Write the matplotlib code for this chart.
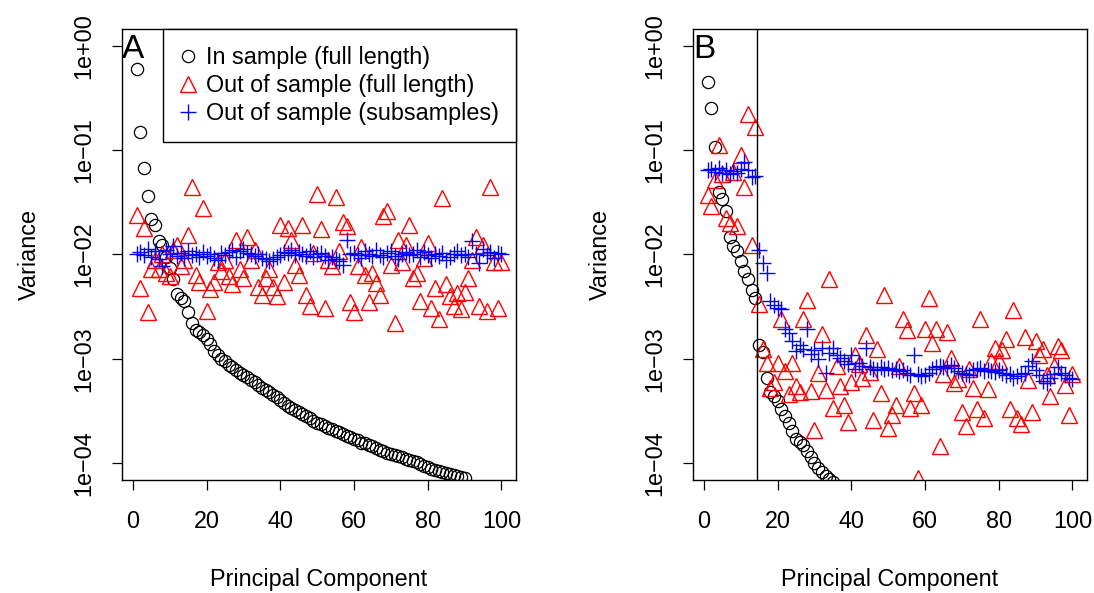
import matplotlib
matplotlib.use("Agg")
import matplotlib.pyplot as plt
from matplotlib.lines import Line2D
import numpy as np

plt.rcParams['font.family'] = ['Liberation Sans', 'DejaVu Sans']

# ---------------- data ----------------
# Panel A
a_in_sample = [0.60, 0.148, 0.068, 0.036, 0.022, 0.019, 0.0136, 0.0124, 0.0095, 0.0075,
               0.0058, 0.0042, 0.0038, 0.0036, 0.0028, 0.0022, 0.0019, 0.0018, 0.0017, 0.00155,
               0.0014, 0.0012, 0.00108, 0.00100, 0.00095, 0.00088, 0.00083, 0.00078, 0.00074, 7.08e-4,
               6.76e-4, 6.31e-4, 6.03e-4, 5.62e-4, 5.25e-4, 5.01e-4, 4.79e-4, 4.47e-4, 4.27e-4, 4.07e-4,
               3.80e-4, 3.55e-4, 3.39e-4, 3.24e-4, 3.09e-4, 2.95e-4, 2.82e-4, 2.69e-4, 2.57e-4, 2.45e-4,
               2.40e-4, 2.29e-4, 2.19e-4, 2.14e-4, 2.04e-4, 2.00e-4, 1.91e-4, 1.82e-4, 1.78e-4, 1.70e-4,
               1.66e-4, 1.58e-4, 1.55e-4, 1.51e-4, 1.45e-4, 1.41e-4, 1.35e-4, 1.32e-4, 1.26e-4, 1.23e-4,
               1.20e-4, 1.17e-4, 1.15e-4, 1.10e-4, 1.07e-4, 1.05e-4, 1.02e-4, 9.8e-5, 9.5e-5, 9.3e-5,
               8.9e-5, 8.7e-5, 8.5e-5, 8.3e-5, 8.1e-5, 7.9e-5, 7.8e-5, 7.6e-5, 7.4e-5, 7.2e-5]

a_out_full = [0.0240, 0.0048, 0.0181, 0.0028, 0.0072, 0.0089, 0.0072, 0.0100, 0.0067, 0.0062,
              0.0111, 0.0124, 0.0077, 0.0089, 0.0155, 0.0445, 0.0064, 0.0054, 0.0281, 0.0029,
              0.0047, 0.0054, 0.0084, 0.0069, 0.0089, 0.0062, 0.0052, 0.0139, 0.0072, 0.0060,
              0.0148, 0.0089, 0.0111, 0.0049, 0.0041, 0.0060, 0.0072, 0.0049, 0.0040, 0.0193,
              0.0054, 0.0181, 0.0139, 0.0080, 0.0063, 0.0193, 0.0041, 0.0032, 0.0104, 0.0382,
              0.0177, 0.0031, 0.0089, 0.0077, 0.0357, 0.0107, 0.0206, 0.0189, 0.0035, 0.0028,
              0.0078, 0.0119, 0.0063, 0.0035, 0.0067, 0.0053, 0.0041, 0.0235, 0.0262, 0.0080,
              0.0022, 0.0139, 0.0084, 0.0124, 0.0193, 0.0059, 0.0067, 0.0036, 0.0093, 0.0130,
              0.0031, 0.0048, 0.0024, 0.0350, 0.0052, 0.0040, 0.0032, 0.0043, 0.0030, 0.0044,
              0.0060, 0.0089, 0.0148, 0.0032, 0.0124, 0.0029, 0.0445, 0.0084, 0.0031, 0.0084]

a_out_sub = [0.0100, 0.0105, 0.0098, 0.0112, 0.0095, 0.0108, 0.0090, 0.0078, 0.0110, 0.0102,
             0.0120, 0.0096, 0.0104, 0.0093, 0.0107, 0.0099, 0.0101, 0.0094, 0.0106, 0.0097,
             0.0100, 0.0092, 0.0088, 0.0103, 0.0098, 0.0106, 0.0110, 0.0095, 0.0108, 0.0112,
             0.0104, 0.0100, 0.0096, 0.0102, 0.0093, 0.0090, 0.0087, 0.0091, 0.0095, 0.0099,
             0.0106, 0.0103, 0.0110, 0.0098, 0.0105, 0.0101, 0.0096, 0.0108, 0.0094, 0.0100,
             0.0103, 0.0097, 0.0089, 0.0095, 0.0091, 0.0087, 0.0080, 0.0139, 0.0100, 0.0104,
             0.0098, 0.0093, 0.0107, 0.0101, 0.0096, 0.0110, 0.0099, 0.0094, 0.0103, 0.0108,
             0.0097, 0.0091, 0.0100, 0.0105, 0.0098, 0.0102, 0.0111, 0.0095, 0.0106, 0.0099,
             0.0093, 0.0101, 0.0097, 0.0104, 0.0089, 0.0095, 0.0100, 0.0107, 0.0098, 0.0102,
             0.0094, 0.0134, 0.0100, 0.0082, 0.0112, 0.0099, 0.0106, 0.0093, 0.0104, 0.0101]

# Panel B
b_in_sample = [0.451, 0.255, 0.108, 0.040, 0.034, 0.0259, 0.0146, 0.0120, 0.0107, 0.0086,
               0.0069, 0.0058, 0.0046, 0.0038, 0.00135, 0.00116, 0.000653, 0.000483, 0.000443, 0.000396,
               0.000330, 0.000285, 0.000243, 0.000205, 0.000171, 0.000160, 0.000150, 0.000132, 0.000114, 0.000100,
               9.0e-5, 8.2e-5, 7.6e-5, 7.1e-5, 6.6e-5]

b_out_full = [0.0373, 0.0289, 0.0519, 0.112, 0.059, 0.0224, 0.0200, 0.062, 0.0186, 0.090,
              0.0448, 0.220, 0.0124, 0.168, 0.00332, 0.00125, 0.00092, 0.00053, 0.00060, 0.00091,
              0.00239, 0.00077, 0.00046, 0.00091, 0.00055, 0.00048, 0.00239, 0.00366, 0.00049, 0.00021,
              0.00074, 0.00175, 0.00050, 0.00585, 0.00034, 0.00086, 0.00055, 0.00036, 0.00025, 0.00060,
              0.00110, 0.00089, 0.00065, 0.00168, 0.00075, 0.00026, 0.00124, 0.00047, 0.00405, 0.00022,
              0.00029, 0.00036, 0.00086, 0.00239, 0.00189, 0.00034, 0.00047, 0.000073, 0.00036, 0.00192,
              0.00385, 0.00141, 0.00192, 0.000147, 0.00071, 0.00181, 0.00101, 0.00059, 0.00064, 0.00031,
              0.00023, 0.00080, 0.00053, 0.00033, 0.00243, 0.00027, 0.00052, 0.00095, 0.00128, 0.00095,
              0.00122, 0.00156, 0.00033, 0.00293, 0.00027, 0.00024, 0.00163, 0.00063, 0.00031, 0.00148,
              0.00110, 0.00124, 0.00070, 0.00044, 0.00086, 0.00133, 0.00122, 0.00056, 0.00029, 0.00071]

b_out_sub = [0.0647, 0.066, 0.062, 0.068, 0.061, 0.065, 0.059, 0.063, 0.060, 0.066,
             0.0777, 0.064, 0.0558, 0.0560, 0.0111, 0.0083, 0.0067, 0.0036, 0.0033, 0.0031,
             0.0030, 0.00195, 0.00178, 0.00150, 0.00119, 0.00135, 0.00125, 0.00195, 0.00111, 0.00123,
             0.00100, 0.00128, 0.00074, 0.00115, 0.00128, 0.00110, 0.00103, 0.00095, 0.00089, 0.00108,
             0.00080, 0.00092, 0.00085, 0.00128, 0.00083, 0.00080, 0.00078, 0.00083, 0.00080, 0.00082,
             0.00078, 0.00080, 0.00076, 0.00079, 0.00074, 0.00070, 0.00108, 0.00072, 0.00068, 0.00070,
             0.00074, 0.00080, 0.00083, 0.00086, 0.00084, 0.00082, 0.00088, 0.00081, 0.00077, 0.00074,
             0.00072, 0.00070, 0.00078, 0.00080, 0.00082, 0.00076, 0.00079, 0.00077, 0.00075, 0.00078,
             0.00074, 0.00070, 0.00072, 0.00066, 0.00068, 0.00071, 0.00073, 0.00086, 0.00095, 0.00078,
             0.00070, 0.00062, 0.00059, 0.00066, 0.00072, 0.00084, 0.00074, 0.00070, 0.00066, 0.00064]

b_cutoff = 14.5

y_ticks = [1e-4, 1e-3, 1e-2, 1e-1, 1e0]
y_tick_labels = ["1e\u221204", "1e\u221203", "1e\u221202", "1e\u221201", "1e+00"]
x_ticks = [0, 20, 40, 60, 80, 100]
legend_labels = ["In sample (full length)", "Out of sample (full length)",
                 "Out of sample (subsamples)"]

# ---------------- figure ----------------
W, H = 1094, 593
fig = plt.figure(figsize=(W / 100, H / 100), dpi=100)
FS = 16.8

def make_axes(left_px):
    return fig.add_axes([left_px / W, (H - 480) / H, 394 / W, 451 / H])

axA = make_axes(122)
axB = make_axes(693)

circ_kw = dict(linestyle='none', marker='o', mfc='none', mec='black', ms=8.8, mew=0.9)
tri_kw = dict(linestyle='none', marker='^', mfc='none', mec='#FF0000', ms=11.0, mew=1.0)
plus_kw = dict(linestyle='none', marker='+', color='#0000FF', ms=11.5, mew=1.0)

def draw(ax, ins, outf, outs, letter):
    ax.plot(np.arange(1, len(ins) + 1), ins, **circ_kw)
    ax.plot(np.arange(1, len(outf) + 1), outf, **tri_kw)
    ax.plot(np.arange(1, len(outs) + 1), outs, **plus_kw)
    ax.set_yscale('log')
    ax.set_ylim(10 ** -4.16, 10 ** 0.16)
    ax.set_xlim(1 - 3.96, 100 + 3.96)
    ax.set_yticks(y_ticks)
    ax.set_yticklabels(y_tick_labels, rotation=90, va='center')
    ax.yaxis.set_minor_locator(matplotlib.ticker.NullLocator())
    ax.set_xticks(x_ticks)
    ax.set_xticklabels([str(t) for t in x_ticks])
    ax.tick_params(axis='both', direction='out', length=7.5, width=0.9, labelsize=FS, color='black')
    ax.tick_params(axis='x', pad=14)
    ax.tick_params(axis='y', pad=12)
    for s in ax.spines.values():
        s.set_linewidth(1.0)
    ax.set_xlabel("Principal Component", fontsize=FS, labelpad=25)
    ax.set_ylabel("Variance", fontsize=FS, labelpad=22)
    ax.text(0.0, 0.99, letter, transform=ax.transAxes, ha='left', va='top', fontsize=24)

draw(axA, a_in_sample, a_out_full, a_out_sub, "A")
draw(axB, b_in_sample, b_out_full, b_out_sub, "B")
axB.axvline(b_cutoff, color='black', lw=1.0)

handles = [Line2D([], [], **circ_kw), Line2D([], [], **tri_kw), Line2D([], [], **plus_kw)]
leg = axA.legend(handles, legend_labels, loc='upper right', borderaxespad=0, fontsize=FS,
                 frameon=True, fancybox=False, edgecolor='black', framealpha=1,
                 borderpad=0.72, handlelength=0.75, handletextpad=0.4, labelspacing=0.22)
leg.get_frame().set_linewidth(1.0)

fig.savefig("out.png", dpi=100)
